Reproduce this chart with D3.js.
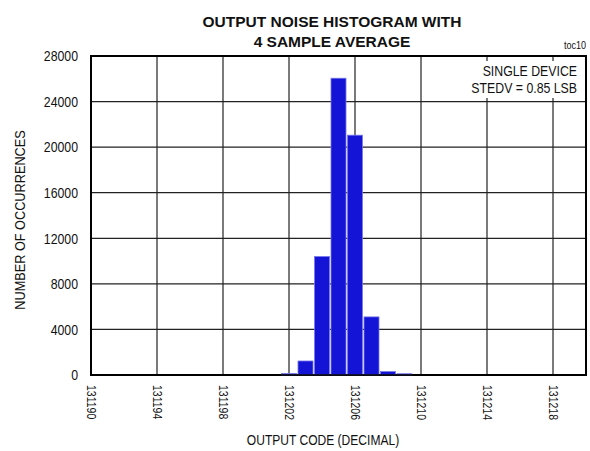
<!DOCTYPE html>
<html>
<head>
<meta charset="utf-8">
<script src="https://cdn.jsdelivr.net/npm/d3@7"></script>
<style>
  html, body { margin: 0; padding: 0; background: #fff; }
  svg { display: block; }
</style>
</head>
<body>
<svg id="chart" width="590" height="451"></svg>
<script>
// ---- data ----
const codes  = [131202, 131203, 131204, 131205, 131206, 131207, 131208, 131209];
const counts = [130, 1230, 10400, 26050, 21050, 5100, 300, 110];
const xTicks = [131190, 131194, 131198, 131202, 131206, 131210, 131214, 131218];
const yTicks = [0, 4000, 8000, 12000, 16000, 20000, 24000, 28000];
const titleLines = ["OUTPUT NOISE HISTOGRAM WITH", "4 SAMPLE AVERAGE"];
const noteLines = ["SINGLE DEVICE", "STEDV = 0.85 LSB"];

// narrow font detection
function hasFont(name) {
  const c = document.createElement("canvas").getContext("2d");
  const s = "OUTPUT CODE 0123456789";
  c.font = "20px monospace"; const a = c.measureText(s).width;
  c.font = "20px '" + name + "', monospace"; const b = c.measureText(s).width;
  return Math.abs(a - b) > 0.5;
}
const narrowOK = hasFont("Liberation Sans Narrow");
const NARROW = narrowOK ? "'Liberation Sans Narrow', 'Arial Narrow', sans-serif" : "'Liberation Sans', Arial, sans-serif";

const svg = d3.select("#chart");
const L = 91, R = 586, T = 56, B = 375;
const x = d3.scaleLinear().domain([131190, 131220]).range([L, R]);
const y = d3.scaleLinear().domain([0, 28000]).range([B, T]);

// grid
svg.append("g").selectAll("line.h").data(yTicks.slice(1, -1)).join("line")
  .attr("x1", L).attr("x2", R).attr("y1", d => y(d)).attr("y2", d => y(d))
  .attr("stroke", "#222").attr("stroke-width", 1.2);
svg.append("g").selectAll("line.v").data(xTicks.slice(1)).join("line")
  .attr("x1", d => x(d)).attr("x2", d => x(d)).attr("y1", T).attr("y2", B)
  .attr("stroke", "#222").attr("stroke-width", 1.2);

// note box
const noteG = svg.append("g");
noteG.append("rect").attr("x", 468).attr("y", 61).attr("width", 116).attr("height", 37).attr("fill", "#fff");
noteG.selectAll("text").data(noteLines).join("text")
  .attr("class", "narrow")
  .attr("x", 577).attr("y", (d, i) => 76 + i * 16.5)
  .attr("text-anchor", "end")
  .style("font-family", NARROW).style("font-size", "15px").attr("fill", "#111")
  .text(d => d);

// frame
svg.append("rect").attr("x", L).attr("y", T).attr("width", R - L).attr("height", B - T)
  .attr("fill", "none").attr("stroke", "#000").attr("stroke-width", 2);

// bars
const step = x(1) - x(0);
svg.append("g").selectAll("rect").data(codes).join("rect")
  .attr("x", d => x(d) - step / 2 + 0.75)
  .attr("width", step - 1.5)
  .attr("y", (d, i) => y(counts[i]))
  .attr("height", (d, i) => B - y(counts[i]))
  .attr("fill", "#1414d6")
  .attr("stroke", "#7878ec").attr("stroke-width", 0.8);

// axes
const yAxis = svg.append("g").attr("transform", `translate(${L},0)`)
  .call(d3.axisLeft(y).tickValues(yTicks).tickSize(0).tickPadding(13).tickFormat(d3.format("d")));
yAxis.select(".domain").remove();
yAxis.selectAll("text").attr("class", "narrow")
  .style("font-family", NARROW).style("font-size", "15px").attr("fill", "#111");

const xAxis = svg.append("g").attr("transform", `translate(0,${B})`)
  .call(d3.axisBottom(x).tickValues(xTicks).tickSize(0).tickFormat(d3.format("d")));
xAxis.select(".domain").remove();
xAxis.selectAll("text").attr("class", "narrow")
  .attr("transform", "rotate(90)")
  .attr("x", 10).attr("y", 0).attr("dy", "0.35em")
  .attr("text-anchor", "start")
  .style("font-family", NARROW).style("font-size", "12.8px").attr("fill", "#111");

// bottom axis line over bars
svg.append("line").attr("x1", L).attr("x2", R).attr("y1", B).attr("y2", B)
  .attr("stroke", "#000").attr("stroke-width", 1.5);

// titles
svg.append("g").selectAll("text").data(titleLines).join("text")
  .attr("x", 332).attr("y", (d, i) => 27 + i * 19.5)
  .attr("text-anchor", "middle")
  .style("font-family", "'Liberation Sans', Arial, sans-serif")
  .style("font-size", "15.5px").style("font-weight", "bold").attr("fill", "#111")
  .text(d => d);

svg.append("text").attr("x", 586).attr("y", 49).attr("text-anchor", "end")
  .style("font-family", NARROW).style("font-size", "11px").attr("fill", "#111")
  .attr("class", "narrow").text("toc10");

svg.append("text").attr("class", "narrow")
  .attr("x", 323).attr("y", 445).attr("text-anchor", "middle")
  .style("font-family", NARROW).style("font-size", "14.7px").attr("fill", "#111")
  .text("OUTPUT CODE (DECIMAL)");

svg.append("text").attr("class", "narrow")
  .attr("transform", "translate(25,220) rotate(-90)")
  .attr("text-anchor", "middle")
  .style("font-family", NARROW).style("font-size", "15.5px").attr("fill", "#111")
  .text("NUMBER OF OCCURRENCES");

// fallback compression if narrow font not installed
if (!narrowOK) {
  svg.selectAll("text.narrow").each(function () {
    const len = this.getComputedTextLength();
    d3.select(this).attr("textLength", len * 0.82).attr("lengthAdjust", "spacingAndGlyphs");
  });
}
</script>
</body>
</html>
